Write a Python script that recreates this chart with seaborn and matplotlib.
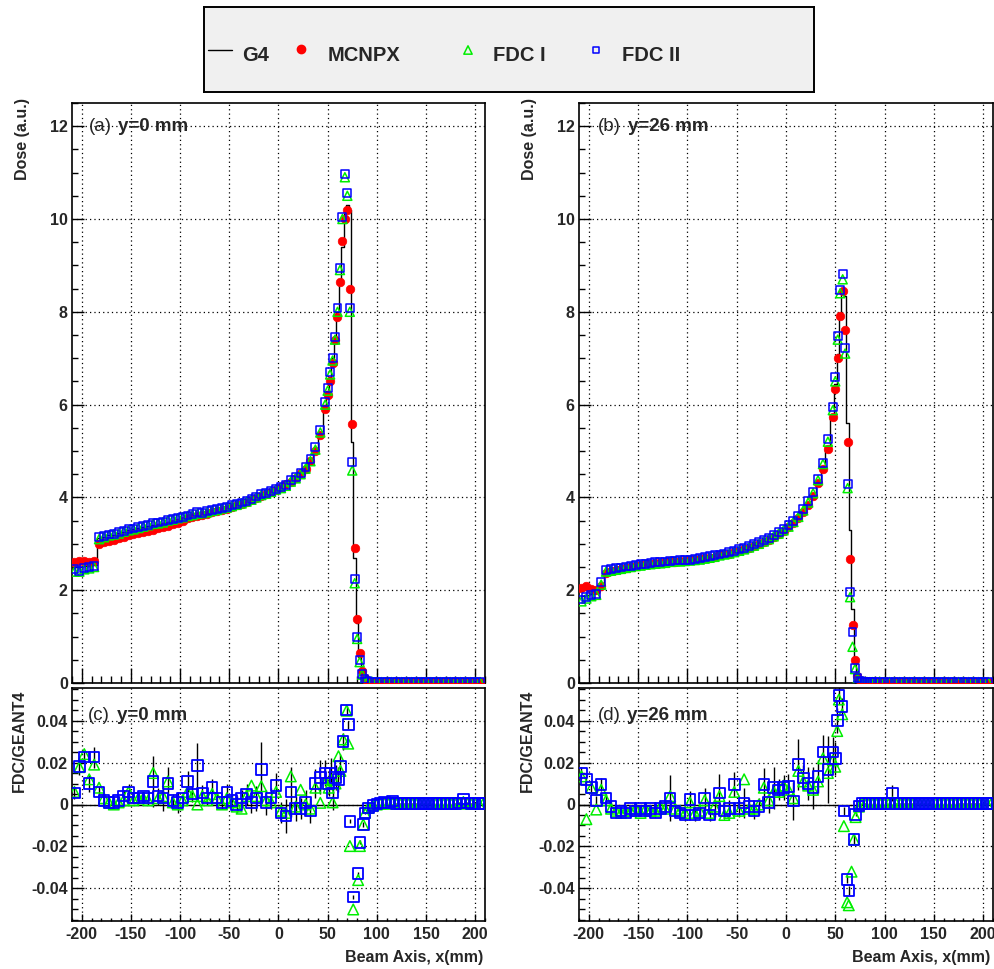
import matplotlib
matplotlib.use("Agg")
import matplotlib.pyplot as plt
import seaborn as sns
import numpy as np
from matplotlib.ticker import MultipleLocator, FuncFormatter

# ---------------- data ----------------
# bin centres (mm) of the dose profiles
x_plateau = [-207.5, -202.5, -197.5, -192.5, -187.5, -182.5, -177.5, -172.5, -167.5, -162.5,
             -157.5, -152.5, -147.5, -142.5, -137.5, -132.5, -127.5, -122.5, -117.5, -112.5,
             -107.5, -102.5, -97.5, -92.5, -87.5, -82.5, -77.5, -72.5, -67.5, -62.5,
             -57.5, -52.5, -47.5, -42.5, -37.5, -32.5, -27.5, -22.5, -17.5, -12.5,
             -7.5, -2.5, 2.5, 7.5, 12.5, 17.5, 22.5, 27.5, 32.5, 37.5,
             42.5, 47.5]
x_peak = [50, 52.5, 55, 57.5, 60, 62.5, 65, 67.5, 70, 72.5, 75, 77.5, 80, 82.5, 85, 87.5, 90]
x_tail = [95, 100, 105, 110, 115, 120, 125, 130, 135, 140, 145, 150, 155, 160, 165, 170,
          175, 180, 185, 190, 195, 200, 205]
x_dose = x_plateau + x_peak + x_tail

dose_tail = [0.03, 0.02, 0.02, 0.02, 0.02, 0.02, 0.02, 0.02, 0.02, 0.02, 0.02, 0.02,
             0.02, 0.02, 0.02, 0.02, 0.02, 0.02, 0.02, 0.02, 0.02, 0.02, 0.02]

# (a) y = 0 mm
g4_a = [2.50, 2.50, 2.52, 2.52, 2.55, 3.12, 3.15, 3.18, 3.20, 3.23,
        3.26, 3.29, 3.31, 3.33, 3.36, 3.38, 3.40, 3.43, 3.45, 3.48,
        3.50, 3.53, 3.55, 3.58, 3.60, 3.63, 3.65, 3.68, 3.70, 3.73,
        3.76, 3.79, 3.82, 3.85, 3.88, 3.92, 3.96, 4.00, 4.04, 4.08,
        4.12, 4.17, 4.22, 4.28, 4.35, 4.43, 4.53, 4.65, 4.82, 5.05,
        5.40, 6.00,
        6.30, 6.60, 7.00, 7.45, 8.00, 8.60, 9.40, 10.10, 10.30, 10.20, 5.20, 2.70, 1.30,
        0.55, 0.20, 0.08, 0.04] + dose_tail
mcnpx_a = [2.60, 2.62, 2.62, 2.60, 2.62, 3.00, 3.03, 3.06, 3.09, 3.12,
           3.15, 3.18, 3.21, 3.23, 3.25, 3.27, 3.30, 3.33, 3.36, 3.39,
           3.42, 3.45, 3.50, 3.55, 3.58, 3.60, 3.63, 3.65, 3.68, 3.70,
           3.72, 3.75, 3.79, 3.83, 3.86, 3.90, 3.95, 3.98, 4.03, 4.07,
           4.12, 4.16, 4.22, 4.28, 4.34, 4.42, 4.52, 4.62, 4.78, 5.00,
           5.35, 5.90,
           6.20, 6.50, 6.90, 7.40, 7.88, 8.65, 9.53, 10.00, 10.20, 8.50, 5.58, 2.90, 1.37,
           0.65, 0.25, 0.10, 0.05] + dose_tail
fdc1_a = [2.40, 2.40, 2.45, 2.47, 2.50, 3.10, 3.14, 3.18, 3.20, 3.22,
          3.26, 3.29, 3.31, 3.34, 3.37, 3.40, 3.43, 3.44, 3.46, 3.50,
          3.52, 3.55, 3.57, 3.60, 3.62, 3.65, 3.66, 3.68, 3.71, 3.73,
          3.76, 3.78, 3.81, 3.84, 3.87, 3.91, 3.95, 4.00, 4.05, 4.08,
          4.12, 4.17, 4.20, 4.25, 4.34, 4.41, 4.50, 4.62, 4.78, 5.03,
          5.40, 6.00,
          6.30, 6.65, 6.95, 7.40, 8.00, 8.90, 10.00, 10.90, 10.50, 8.00, 4.58, 2.15, 0.95,
          0.45, 0.18, 0.07, 0.03] + dose_tail
fdc2_a = [2.45, 2.42, 2.48, 2.50, 2.52, 3.14, 3.17, 3.20, 3.22, 3.25,
          3.28, 3.31, 3.33, 3.36, 3.38, 3.41, 3.44, 3.46, 3.48, 3.52,
          3.54, 3.56, 3.58, 3.61, 3.64, 3.68, 3.67, 3.70, 3.72, 3.75,
          3.77, 3.80, 3.83, 3.86, 3.89, 3.93, 3.97, 4.02, 4.08, 4.10,
          4.14, 4.19, 4.22, 4.27, 4.37, 4.44, 4.53, 4.66, 4.82, 5.08,
          5.45, 6.05,
          6.35, 6.70, 7.00, 7.45, 8.09, 8.95, 10.04, 10.97, 10.56, 8.09, 4.76, 2.24, 1.00,
          0.49, 0.20, 0.08, 0.04] + dose_tail

# (b) y = 26 mm
g4_b = [1.88, 1.90, 1.92, 1.95, 2.05, 2.42, 2.44, 2.46, 2.48, 2.50,
        2.52, 2.54, 2.55, 2.56, 2.58, 2.59, 2.60, 2.61, 2.62, 2.63,
        2.64, 2.65, 2.66, 2.67, 2.68, 2.70, 2.72, 2.74, 2.76, 2.78,
        2.80, 2.83, 2.86, 2.89, 2.92, 2.96, 3.00, 3.05, 3.10, 3.16,
        3.22, 3.29, 3.37, 3.46, 3.57, 3.70, 3.86, 4.06, 4.32, 4.65,
        5.10, 5.75,
        6.45, 7.10, 7.90, 8.50, 8.35, 5.60, 3.30, 1.60, 0.55, 0.15, 0.05, 0.03, 0.02,
        0.02, 0.02, 0.02, 0.02] + dose_tail
mcnpx_b = [2.05, 2.08, 2.02, 2.00, 2.10, 2.38, 2.41, 2.44, 2.46, 2.48,
           2.51, 2.53, 2.55, 2.56, 2.57, 2.58, 2.59, 2.60, 2.62, 2.61,
           2.62, 2.63, 2.65, 2.66, 2.67, 2.69, 2.70, 2.72, 2.75, 2.77,
           2.79, 2.82, 2.85, 2.88, 2.91, 2.95, 2.99, 3.04, 3.09, 3.15,
           3.21, 3.28, 3.36, 3.45, 3.56, 3.68, 3.84, 4.04, 4.30, 4.62,
           5.05, 5.73,
           6.34, 7.00, 7.91, 8.45, 7.60, 5.19, 2.68, 1.25, 0.49, 0.15, 0.06, 0.03, 0.02,
           0.02, 0.02, 0.02, 0.02] + dose_tail
fdc1_b = [1.76, 1.82, 1.87, 1.90, 2.12, 2.40, 2.42, 2.44, 2.46, 2.48,
          2.50, 2.52, 2.53, 2.55, 2.56, 2.57, 2.58, 2.59, 2.61, 2.62,
          2.62, 2.63, 2.64, 2.65, 2.66, 2.68, 2.70, 2.72, 2.75, 2.77,
          2.79, 2.82, 2.85, 2.88, 2.92, 2.96, 3.00, 3.05, 3.10, 3.16,
          3.22, 3.29, 3.37, 3.47, 3.58, 3.72, 3.89, 4.09, 4.37, 4.72,
          5.20, 5.88,
          6.50, 7.40, 8.40, 8.70, 7.10, 4.20, 1.85, 0.78, 0.30, 0.09, 0.04, 0.03, 0.02,
          0.02, 0.02, 0.02, 0.02] + dose_tail
fdc2_b = [1.80, 1.85, 1.90, 1.92, 2.18, 2.44, 2.45, 2.47, 2.49, 2.51,
          2.53, 2.54, 2.56, 2.57, 2.58, 2.60, 2.61, 2.62, 2.63, 2.64,
          2.65, 2.66, 2.66, 2.67, 2.69, 2.71, 2.73, 2.75, 2.77, 2.79,
          2.82, 2.85, 2.88, 2.91, 2.95, 2.99, 3.03, 3.08, 3.13, 3.19,
          3.25, 3.32, 3.40, 3.50, 3.61, 3.75, 3.92, 4.12, 4.40, 4.75,
          5.25, 5.94,
          6.59, 7.48, 8.47, 8.81, 7.22, 4.29, 1.96, 1.10, 0.32, 0.10, 0.04, 0.03, 0.02,
          0.02, 0.02, 0.02, 0.02] + dose_tail

# (c) ratio, y = 0 mm
xr_c = x_plateau + [51, 53, 55, 58, 61, 63, 65.8, 69.3, 70.9, 72.6, 76, 81, 82.8, 86.2,
                    87.9, 91.3, 96] + \
       [100, 104, 108, 112, 116, 120, 124, 128, 132, 136, 140, 144, 148, 152, 156, 160,
        164, 168, 172, 176, 180, 184, 188, 192, 196, 200, 204, 208]
r1_c = [0.006, 0.0178, 0.024, 0.012, 0.019, 0.008, 0.003, 0.001, 0.000, 0.001,
        0.002, 0.006, 0.002, 0.003, 0.003, 0.002, 0.015, 0.003, 0.004, 0.011,
        0.001, 0.000, 0.002, 0.006, 0.004, 0.000, 0.004, 0.002, 0.005, 0.003,
        0.000, 0.003, 0.001, -0.001, -0.002, 0.004, 0.009, 0.004, 0.0087, 0.002,
        0.001, 0.006, -0.003, -0.004, 0.0134, -0.001, 0.007, 0.000, -0.002, 0.008,
        0.0008, 0.010,
        0.008, 0.012, 0.001, 0.010, 0.023, 0.016, 0.031, 0.0447, 0.029, -0.0198, -0.050,
        -0.036, -0.0198, -0.0095, -0.004, -0.0016, -0.0005,
        0.0000, 0.0004, 0.0006, 0.0004, 0.0006, 0.0003, 0.0003, 0.0003, 0.0003, 0.0003,
        0.0003, 0.0003, 0.0003, 0.0003, 0.0003, 0.0003, 0.0003, 0.0003, 0.0003, 0.0003,
        0.0003, 0.0005, 0.0012, 0.0005, 0.0003, 0.0003, 0.0003, 0.0003]
r2_c = [0.0055, 0.018, 0.0226, 0.010, 0.0226, 0.006, 0.002, 0.001, 0.001, 0.002,
        0.004, 0.006, 0.003, 0.003, 0.004, 0.003, 0.011, 0.004, 0.003, 0.010,
        0.002, 0.001, 0.003, 0.011, 0.005, 0.0185, 0.0055, 0.003, 0.008, 0.003,
        0.001, 0.006, 0.002, 0.000, 0.003, 0.005, 0.001, 0.003, 0.0166, 0.001,
        0.003, 0.009, -0.004, -0.0055, 0.006, -0.002, -0.002, 0.001, -0.003, 0.010,
        0.013, 0.015,
        0.010, 0.015, 0.0055, 0.013, 0.012, 0.018, 0.030, 0.045, 0.038, -0.008, -0.044,
        -0.033, -0.018, -0.0095, -0.004, -0.0016, -0.0005,
        0.0002, 0.0008, 0.0010, 0.0008, 0.0016, 0.0005, 0.0005, 0.0005, 0.0004, 0.0004,
        0.0004, 0.0004, 0.0004, 0.0004, 0.0004, 0.0004, 0.0004, 0.0004, 0.0004, 0.0004,
        0.0004, 0.0008, 0.0027, 0.0008, 0.0004, 0.0004, 0.0004, 0.0004]
err_c = [0.003, 0.004, 0.003, 0.004, 0.005, 0.003, 0.002, 0.002, 0.002, 0.002,
         0.003, 0.004, 0.002, 0.002, 0.002, 0.003, 0.012, 0.004, 0.006, 0.008,
         0.003, 0.005, 0.003, 0.005, 0.004, 0.011, 0.004, 0.003, 0.004, 0.003,
         0.003, 0.004, 0.003, 0.004, 0.004, 0.005, 0.005, 0.006, 0.013, 0.006,
         0.005, 0.006, 0.005, 0.008, 0.012, 0.006, 0.005, 0.006, 0.006, 0.007,
         0.008, 0.006,
         0.006, 0.007, 0.008, 0.006, 0.006, 0.006, 0.004, 0.002, 0.002, 0.001, 0.001,
         0.001, 0.001, 0.001, 0.0005, 0.0005, 0.0005,
         0.0003, 0.0003, 0.0003, 0.0003, 0.0003, 0.0003, 0.0003, 0.0003, 0.0003, 0.0003,
         0.0003, 0.0003, 0.0003, 0.0003, 0.0003, 0.0003, 0.0003, 0.0003, 0.0003, 0.0003,
         0.0003, 0.0003, 0.0003, 0.0003, 0.0003, 0.0003, 0.0003, 0.0003]

# (d) ratio, y = 26 mm
xr_d = x_plateau + [50, 52, 53.6, 57, 58.7, 62, 63.7, 66.5, 68.9, 70.6, 74, 77] + \
       [80, 84, 88, 92, 96, 100, 104, 108, 112, 116, 120, 124, 128, 132, 136, 140, 144,
        148, 152, 156, 160, 164, 168, 172, 176, 180, 184, 188, 192, 196, 200, 204, 208]
r1_d = [0.0134, -0.007, 0.008, -0.0024, 0.007, 0.002, -0.002, -0.003, -0.004, -0.003,
        -0.003, -0.002, -0.004, -0.002, -0.003, -0.003, -0.001, -0.002, 0.004, -0.002,
        -0.003, -0.004, 0.001, -0.004, -0.003, 0.002, -0.004, -0.001, 0.004, -0.005,
        -0.004, 0.006, -0.003, 0.012, -0.002, -0.002, 0.000, 0.008, 0.002, 0.006,
        0.006, 0.009, 0.007, 0.003, 0.016, 0.011, 0.009, 0.007, 0.011, 0.022,
        0.015, 0.021,
        0.018, 0.035, 0.050, 0.043, -0.0103, -0.0466, -0.048, -0.032, -0.0166, -0.006,
        -0.001, 0.0003,
        0.0003, 0.0003, 0.0003, 0.0003, 0.0003, 0.0003, 0.0003, 0.0010, 0.0003, 0.0003,
        0.0003, 0.0003, 0.0003, 0.0003, 0.0003, 0.0003, 0.0003, 0.0003, 0.0003, 0.0003,
        0.0003, 0.0003, 0.0003, 0.0003, 0.0003, 0.0003, 0.0003, 0.0003, 0.0003, 0.0003,
        0.0003, 0.0003, 0.0003]
r2_d = [0.015, 0.012, 0.008, 0.002, 0.0095, 0.003, -0.001, -0.004, -0.003, -0.004,
        -0.002, -0.003, -0.002, -0.003, -0.002, -0.004, -0.002, -0.001, 0.003, -0.003,
        -0.004, -0.005, 0.0024, -0.005, -0.004, 0.003, -0.005, -0.002, 0.0055, -0.003,
        -0.002, 0.0095, -0.002, 0.0008, -0.001, -0.003, -0.001, 0.0095, 0.001, 0.008,
        0.007, 0.008, 0.0087, 0.0016, 0.019, 0.0127, 0.010, 0.008, 0.0134, 0.025,
        0.0166, 0.025,
        0.022, 0.040, 0.052, 0.0466, -0.003, -0.0356, -0.041, np.nan, -0.0166, -0.0047,
        -0.0008, 0.0005,
        0.0005, 0.0005, 0.0005, 0.0005, 0.0005, 0.0005, 0.0005, 0.0055, 0.0005, 0.0005,
        0.0005, 0.0005, 0.0005, 0.0005, 0.0005, 0.0005, 0.0005, 0.0005, 0.0005, 0.0005,
        0.0005, 0.0005, 0.0005, 0.0005, 0.0005, 0.0005, 0.0005, 0.0005, 0.0005, 0.0005,
        0.0005, 0.0005, 0.0005]
err_d = [0.003, 0.003, 0.003, 0.002, 0.003, 0.002, 0.002, 0.002, 0.002, 0.002,
         0.002, 0.002, 0.002, 0.002, 0.002, 0.002, 0.003, 0.003, 0.011, 0.003,
         0.003, 0.003, 0.004, 0.003, 0.003, 0.005, 0.003, 0.004, 0.009, 0.004,
         0.004, 0.006, 0.004, 0.007, 0.004, 0.004, 0.004, 0.008, 0.005, 0.010,
         0.005, 0.006, 0.006, 0.009, 0.012, 0.006, 0.008, 0.010, 0.008, 0.008,
         0.016, 0.007,
         0.008, 0.006, 0.004, 0.004, 0.002, 0.002, 0.002, 0.0, 0.002, 0.001, 0.001, 0.0005,
         0.0003, 0.0003, 0.0003, 0.0003, 0.0003, 0.0003, 0.0003, 0.004, 0.0003, 0.0003,
         0.0003, 0.0003, 0.0003, 0.0003, 0.0003, 0.0003, 0.0003, 0.0003, 0.0003, 0.0003,
         0.0003, 0.0003, 0.0003, 0.0003, 0.0003, 0.0003, 0.0003, 0.0003, 0.0003, 0.0003,
         0.0003, 0.0003, 0.0003]

series_names = ["G4", "MCNPX", "FDC I", "FDC II"]
panel_tags = ["(a)", "(b)", "(c)", "(d)"]
panel_pos = ["y=0 mm", "y=26 mm", "y=0 mm", "y=26 mm"]

# ---------------- style ----------------
sns.set_style("white")
plt.rcParams["font.family"] = ["Liberation Sans", "DejaVu Sans"]
plt.rcParams["font.weight"] = "bold"

RED, GREEN, BLUE = "#ff0000", "#00ee00", "#0000ff"

W, H = 995, 969
fig = plt.figure(figsize=(W / 100, H / 100), dpi=100)


def frac(x0, y0, x1, y1):
    return [x0 / W, 1 - y1 / H, (x1 - x0) / W, (y1 - y0) / H]


ax_a = fig.add_axes(frac(72, 103, 485, 683))
ax_b = fig.add_axes(frac(579, 103, 993, 683))
ax_c = fig.add_axes(frac(72, 688, 485, 921))
ax_d = fig.add_axes(frac(579, 688, 993, 921))


def tickfmt(v, p):
    if abs(v) < 1e-9:
        return "0"
    return "%g" % round(v, 4)


def style(ax, ylim, ymaj, ymin, xlen, ylen, show_x):
    ax.set_xlim(-210, 210)
    ax.set_ylim(*ylim)
    ax.xaxis.set_major_locator(MultipleLocator(50))
    ax.xaxis.set_minor_locator(MultipleLocator(10))
    ax.yaxis.set_major_locator(MultipleLocator(ymaj))
    ax.yaxis.set_minor_locator(MultipleLocator(ymin))
    ax.xaxis.set_major_formatter(FuncFormatter(tickfmt))
    ax.yaxis.set_major_formatter(FuncFormatter(tickfmt))
    ax.tick_params(axis="x", which="major", direction="in", length=xlen, width=1.0,
                   top=False, bottom=True, labelbottom=show_x, labelsize=11.5, pad=4,
                   color="black")
    ax.tick_params(axis="x", which="minor", direction="in", length=xlen / 2, width=1.0,
                   top=False, bottom=True, color="black")
    ax.tick_params(axis="y", which="major", direction="in", length=ylen, width=1.0,
                   right=False, left=True, labelsize=11.5, pad=3, color="black")
    ax.tick_params(axis="y", which="minor", direction="in", length=ylen / 2, width=1.0,
                   right=False, left=True, color="black")
    ax.grid(True, which="major", color="black", linestyle=(0, (1, 2.5)), linewidth=0.9)
    ax.set_axisbelow(True)
    for s in ax.spines.values():
        s.set_linewidth(1.2)
        s.set_color("black")
    ax.set_xlabel("")
    ax.set_ylabel("")


def draw_dose(ax, g4, mc, f1, f2):
    sns.lineplot(x=x_dose, y=g4, drawstyle="steps-mid", color="black", linewidth=1.0,
                 estimator=None, ax=ax, zorder=2)
    sns.scatterplot(x=x_dose, y=mc, marker="o", s=38, color=RED, edgecolor=RED,
                    linewidth=0.5, ax=ax, zorder=3)
    sns.scatterplot(x=x_dose, y=f1, marker="^", s=42, facecolor="none", edgecolor=GREEN,
                    linewidth=1.1, ax=ax, zorder=4)
    sns.scatterplot(x=x_dose, y=f2, marker="s", s=32, facecolor="none", edgecolor=BLUE,
                    linewidth=1.1, ax=ax, zorder=5)


def draw_ratio(ax, xr, r1, r2, err):
    ax.axhline(0, color="black", linewidth=1.0, zorder=2)
    ax.errorbar(xr, r2, yerr=err, fmt="none", ecolor="black", elinewidth=1.0,
                capsize=0, zorder=2)
    sns.scatterplot(x=xr, y=r1, marker="^", s=58, facecolor="none", edgecolor=GREEN,
                    linewidth=1.1, ax=ax, zorder=4)
    sns.scatterplot(x=xr, y=r2, marker="s", s=58, facecolor="none", edgecolor=BLUE,
                    linewidth=1.3, ax=ax, zorder=5)


draw_dose(ax_a, g4_a, mcnpx_a, fdc1_a, fdc2_a)
draw_dose(ax_b, g4_b, mcnpx_b, fdc1_b, fdc2_b)
draw_ratio(ax_c, xr_c, r1_c, r2_c, err_c)
draw_ratio(ax_d, xr_d, r1_d, r2_d, err_d)

for ax in (ax_a, ax_b):
    style(ax, (0, 12.5), 2, 0.5, 10.5, 8.5, False)
for ax in (ax_c, ax_d):
    style(ax, (-0.0555, 0.0555), 0.02, 0.005, 5, 8.5, True)

# panel labels
label_xy = [(89, 118, 131), (598, 628, 131), (88, 117, 720), (598, 627, 720)]
for (xt, xp, yb), tag, pos in zip(label_xy, panel_tags, panel_pos):
    fig.text(xt / W, 1 - yb / H, tag, fontsize=13.5, fontweight="normal", va="baseline")
    fig.text(xp / W, 1 - yb / H, pos, fontsize=13.5, fontweight="bold", va="baseline")

# axis titles
for xc in (23, 530):
    fig.text(xc / W, 1 - 98 / H, "Dose (a.u.)", rotation=90, ha="center", va="top",
             fontsize=11.5, fontweight="bold")
for xc in (19, 527):
    fig.text(xc / W, 1 - 690 / H, "FDC/GEANT4", rotation=90, ha="center", va="top",
             fontsize=11.5, fontweight="bold")
for xr in (483, 990):
    fig.text(xr / W, 1 - 962 / H, "Beam Axis, x(mm)", ha="right", va="baseline",
             fontsize=11.5, fontweight="bold")

# legend box
leg = fig.add_axes(frac(204, 7, 814, 92))
leg.set_xlim(204, 814)
leg.set_ylim(92, 7)
leg.set_facecolor("#f0f0f0")
leg.set_xticks([])
leg.set_yticks([])
for s in leg.spines.values():
    s.set_linewidth(1.4)
    s.set_color("black")
leg.plot([208, 232], [50, 50], color="black", linewidth=1.0)
leg.scatter([301], [49], marker="o", s=36, color=RED)
leg.scatter([468], [50], marker="^", s=36, facecolor="none", edgecolor=GREEN, linewidth=1.1)
leg.scatter([596], [50], marker="s", s=24, facecolor="none", edgecolor=BLUE, linewidth=1.1)
for xl, name in zip([242, 328, 493, 622], series_names):
    leg.text(xl, 61, name, fontsize=14.5, fontweight="bold", va="baseline", ha="left")

fig.savefig("out.png", dpi=100)
